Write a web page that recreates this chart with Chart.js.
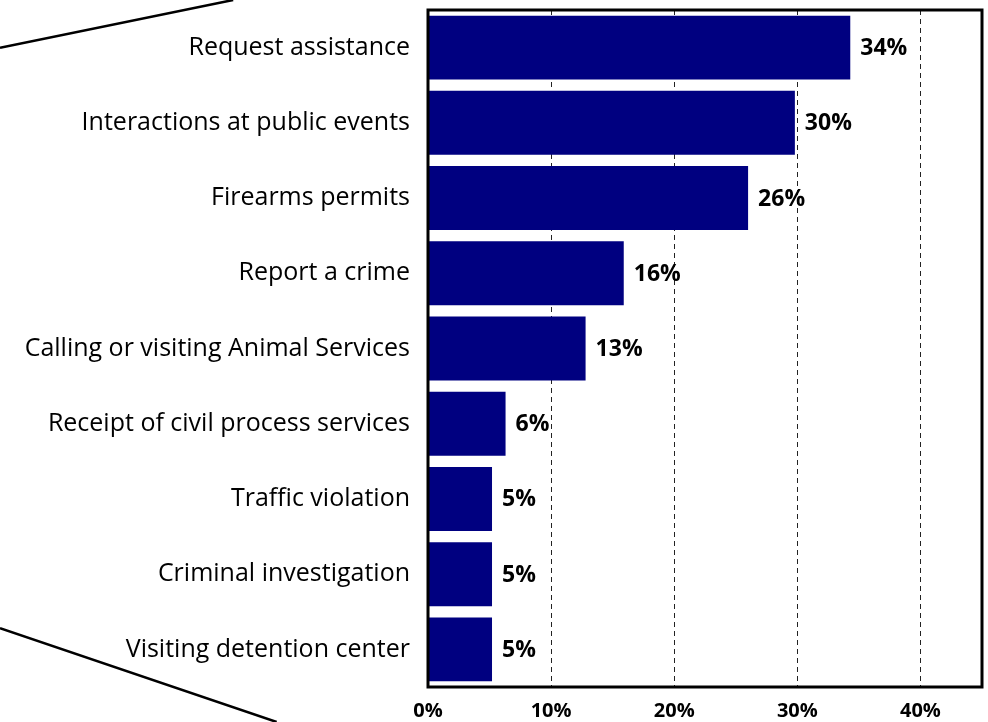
<!DOCTYPE html>
<html lang="en">
<head>
  <meta charset="UTF-8">
  <title>Reasons for contact</title>
  <script src="https://cdn.jsdelivr.net/npm/chart.js"></script>
  <style>
    html, body {
      margin: 0;
      padding: 0;
      background: #fff;
    }
    #wrap {
      width: 988px;
      height: 722px;
    }
  </style>
</head>
<body>
<div id="wrap">
  <canvas id="grafico"></canvas>
</div>

<script>
  // categorias e valores
  const categorias = [
    'Request assistance',
    'Interactions at public events',
    'Firearms permits',
    'Report a crime',
    'Calling or visiting Animal Services',
    'Receipt of civil process services',
    'Traffic violation',
    'Criminal investigation',
    'Visiting detention center'
  ];
  const valores = [34.3, 29.8, 26.0, 15.9, 12.8, 6.3, 5.2, 5.2, 5.2];
  const rotulos = ['34%', '30%', '26%', '16%', '13%', '6%', '5%', '5%', '5%'];
  const ticksX = [0, 10, 20, 30, 40];

  const FONTE = '"Open Sans", Lato, sans-serif';

  // moldura da área do gráfico, rótulos de valor e linhas de chamada
  const extras = {
    id: 'extras',
    afterDatasetsDraw(chart) {
      const ctx = chart.ctx;
      const a = chart.chartArea;
      const meta = chart.getDatasetMeta(0);
      ctx.save();
      ctx.fillStyle = '#000';
      ctx.font = 'bold 23px ' + FONTE;
      ctx.textAlign = 'left';
      ctx.textBaseline = 'middle';
      meta.data.forEach((bar, i) => {
        ctx.fillText(rotulos[i], bar.x + 10, bar.y + 1);
      });

      ctx.strokeStyle = '#000';
      ctx.lineWidth = 3;
      ctx.strokeRect(a.left, a.top, a.right - a.left, a.bottom - a.top);

      // linhas diagonais (chamada de outro gráfico)
      const W = chart.width, H = chart.height;
      ctx.lineWidth = 2.5;
      ctx.beginPath();
      ctx.moveTo(0, H * 0.066);
      ctx.lineTo(W * 0.236, 0);
      ctx.moveTo(0, H * 0.87);
      ctx.lineTo(W * 0.28, H);
      ctx.stroke();
      ctx.restore();
    }
  };

  new Chart(document.getElementById('grafico'), {
    type: 'bar',
    data: {
      labels: categorias,
      datasets: [{
        data: valores,
        backgroundColor: '#000080',
        borderWidth: 0,
        barPercentage: 0.85,
        categoryPercentage: 1
      }]
    },
    options: {
      indexAxis: 'y',
      responsive: true,
      maintainAspectRatio: false,
      animation: false,
      layout: {
        padding: { top: 10, right: 6, left: 0, bottom: 0 }
      },
      plugins: {
        legend: { display: false },
        tooltip: { enabled: false }
      },
      scales: {
        x: {
          min: 0,
          max: 45,
          afterBuildTicks(scale) {
            scale.ticks = ticksX.map(v => ({ value: v }));
          },
          afterFit(scale) {
            scale.height = 35;
            scale.paddingLeft = 0;
            scale.paddingRight = 0;
          },
          border: { display: false, dash: [5, 4] },
          grid: {
            drawTicks: false,
            color: ctx => (ctx.tick && ctx.tick.value === 0) ? 'rgba(0,0,0,0)' : '#222',
            lineWidth: 1
          },
          ticks: {
            padding: 12,
            color: '#000',
            font: { family: FONTE, size: 20, weight: 'bold' },
            callback: v => v + '%'
          }
        },
        y: {
          afterFit(scale) {
            scale.width = 428;
            scale.paddingTop = 0;
            scale.paddingBottom = 0;
          },
          border: { display: false },
          grid: { display: false, drawTicks: false },
          ticks: {
            padding: 18,
            color: '#000',
            font: { family: FONTE, size: 25 }
          }
        }
      }
    },
    plugins: [extras]
  });
</script>
</body>
</html>
